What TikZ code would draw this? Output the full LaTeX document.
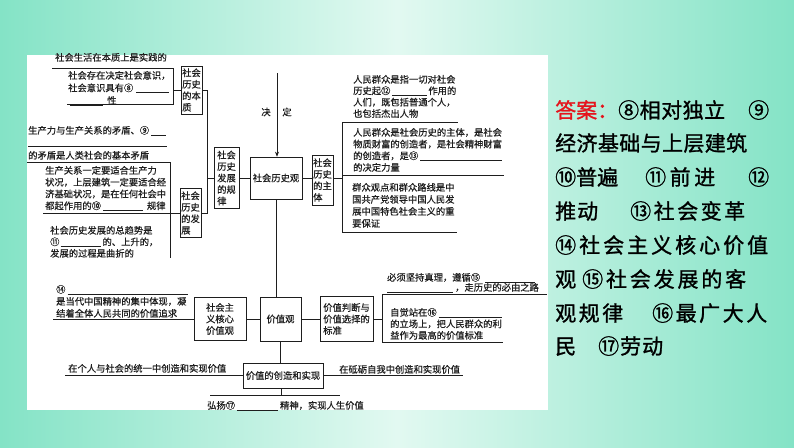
\documentclass[tikz,border=0pt]{standalone}
\usepackage{fontspec}
\setmainfont{Noto Sans CJK SC}
\newfontfamily\ansfont[FakeBold=1.2]{Noto Sans CJK SC}
\newfontfamily\dgfont[FakeBold=0.5]{Noto Sans CJK SC}
\usetikzlibrary{arrows.meta}
\definecolor{bgA}{HTML}{84E3C6}
\definecolor{bgB}{HTML}{E2F9F1}
\definecolor{ansred}{HTML}{E5141C}
\definecolor{ink}{HTML}{1E1E1E}
\newcommand\blk[1]{\rule[-1.2pt]{#1pt}{0.5pt}}
\makeatletter
\newcommand\spread[2]{\makebox[#1pt][s]{\spread@init#2\spread@end}}
\def\spread@init#1{#1\spread@loop}
\def\spread@loop#1{\ifx#1\spread@end\else\hfil#1\expandafter\spread@loop\fi}
\let\spread@end\relax
\makeatother
\tikzset{
  txt/.style={anchor=north west, inner sep=0pt, align=left, text=ink,
    font=\dgfont\fontsize{9.3}{11.7}\selectfont},
  bx/.style={draw=ink, line width=0.6pt, inner sep=0pt, text=ink,
    font=\dgfont\fontsize{9.3}{11.5}\selectfont, align=center},
  bxl/.style={bx, align=left},
  ln/.style={draw=ink, line width=0.6pt},
  ans/.style={anchor=base west, inner sep=0pt, text=black,
    font=\ansfont\fontsize{21}{21}\selectfont}
}
\begin{document}
\begin{tikzpicture}[x=1pt,y=-1pt]
\useasboundingbox (0,0) rectangle (794,447);
\shade[left color=bgA, right color=bgA, middle color=bgB] (0,0) rectangle (794,447);
\fill[white] (27,55) rectangle (548,410);

% ---------- boxes ----------
\node[bxl, minimum width=21pt, minimum height=48pt] (bz) at (191.5,90) {社会\\历史\\的本\\质};
\node[bxl, minimum width=21pt, minimum height=49pt] (fz) at (190.5,213) {社会\\历史\\的发\\展};
\node[bxl, minimum width=25pt, minimum height=61pt] (gl) at (226.5,178) {社会\\历史\\发展\\的规\\律};
\node[bx, minimum width=52pt, minimum height=42pt] (gc) at (276,178) {社会历史观};
\node[bxl, minimum width=21pt, minimum height=50pt] (zt) at (322.5,180) {社会\\历史\\的主\\体};
\node[bx, minimum width=41pt, minimum height=44pt] (vc) at (280.5,319) {价值观};
\node[bx, minimum width=52pt, minimum height=43pt] (hx) at (220,319) {社会主\\义核心\\价值观};
\node[bxl, minimum width=53pt, minimum height=45pt] (bzn) at (346.5,319) {价值判断与\\价值选择的\\标准};
\node[bx, minimum width=80pt, minimum height=25pt] (cz) at (283,375.5) {价值的创造和实现};

% ---------- arrow and label ----------
\coordinate (aTop) at (277,73);
\draw[ln, -{Stealth[length=5pt,width=4pt]}] (aTop) -- (aTop |- gc.north);
\node[txt, anchor=center] (jue) at (266,112) {决};
\node[txt, anchor=center] (ding) at (287,112) {定};

% ---------- left upper connectors ----------
\coordinate (j1) at (207,90);
\coordinate (j2) at (207,213);
\draw[ln] (bz.east) -- (j1) -- (j2) -- (fz.east);
\draw[ln] (j1 |- gl.west) -- (gl.west);
\draw[ln] (gl.east) -- (gc.west);
\draw[ln] (gc.east) -- (gc.east -| zt.west);

\coordinate (L1a) at (52,68);
\coordinate (L1b) at (173,68);
\coordinate (L1c) at (173,104);
\coordinate (L1d) at (67,104);
\draw[ln] (L1a) -- (L1b) -- (L1c) -- (L1d);
\draw[ln] (L1b |- bz.west) -- (bz.west);

\coordinate (L2a) at (28,146);
\coordinate (L2b) at (167,146);
\draw[ln] (L2a) -- (L2b);
\coordinate (L3a) at (27,162);
\coordinate (L3b) at (170,162);
\coordinate (L3c) at (170,258);
\draw[ln] (L3a) -- (L3b) -- (L3c);
\coordinate (L4a) at (43,213);
\draw[ln] (L4a) -- (fz.west);

% ---------- right upper connectors ----------
\coordinate (j3) at (342,178);
\coordinate (r1) at (342,122);
\coordinate (r2) at (342,232);
\coordinate (r1e) at (458,122);
\coordinate (rme) at (504,175);
\coordinate (r2e) at (457,232);
\draw[ln] (zt.east |- j3) -- (j3);
\draw[ln] (r1) -- (r2);
\draw[ln] (r1) -- (r1e);
\draw[ln] (r1 |- rme) -- (rme);
\draw[ln] (r2) -- (r2e);

% ---------- lower connectors ----------
\draw[ln] (gc.south) -- (gc.south |- vc.north);
\draw[ln] (vc.west) -- (hx.east);
\coordinate (h1) at (53,319);
\draw[ln] (hx.west) -- (h1);
\draw[ln] (vc.east) -- (bzn.west);
\coordinate (j4) at (382,319);
\coordinate (s1) at (382,294);
\coordinate (s2) at (382,342);
\coordinate (s1e) at (547,294);
\coordinate (s2e) at (503,342);
\draw[ln] (bzn.east) -- (j4);
\draw[ln] (s1) -- (s2);
\draw[ln] (s1) -- (s1e);
\draw[ln] (s2) -- (s2e);
\draw[ln] (vc.south) -- (vc.south |- cz.north);
\coordinate (c1) at (65,375.5);
\coordinate (c2) at (463,375.5);
\draw[ln] (cz.west) -- (c1);
\draw[ln] (cz.east) -- (c2);
\coordinate (c3) at (281,395);
\coordinate (c4) at (210,395);
\coordinate (c5) at (340,395);
\draw[ln] (cz.south -| c3) -- (c3);
\draw[ln] (c4) -- (c5);

% ---------- texts ----------
\node[txt] (p1) at (55,52.8) {社会生活在本质上是实践的};
\node[txt, font=\dgfont\fontsize{9.3}{12.5}\selectfont] (p2) at (68,70.8)
  {社会存在决定社会意识，\\社会意识具有⑧\hspace{3pt}\blk{33}\\\hspace{2pt}\blk{33}\hspace{4pt}性};
\node[txt] (p3) at (28,125.8) {生产力与生产关系的矛盾、⑨\hspace{2pt}\blk{15}};
\node[txt] (p4) at (28,150.8) {的矛盾是人类社会的基本矛盾};
\node[txt, font=\dgfont\fontsize{9.3}{11.8}\selectfont] (p5) at (45,165.8)
  {生产关系一定要适合生产力\\状况，上层建筑一定要适合经\\济基础状况，是在任何社会中\\都起作用的⑩\hspace{2pt}\blk{40}\hspace{4pt}规律};
\node[txt, font=\dgfont\fontsize{9.3}{11.5}\selectfont] (p6) at (50,225.8)
  {社会历史发展的总趋势是\\⑪\hspace{1pt}\blk{40}\hspace{2pt}的、上升的，\\发展的过程是曲折的};
\node[txt, font=\dgfont\fontsize{9.3}{11.4}\selectfont] (p7) at (353,74.8)
  {人民群众是指一切对社会\\历史起⑫\hspace{2pt}\blk{35}\hspace{1pt}作用的\\人们，既包括普通个人，\\也包括杰出人物};
\node[txt, font=\dgfont\fontsize{9.3}{11.7}\selectfont] (p8) at (353,127.8)
  {人民群众是社会历史的主体，是社会\\物质财富的创造者，是社会精神财富\\的创造者，是⑬\hspace{2pt}\blk{82}\\的决定力量};
\node[txt, font=\dgfont\fontsize{9.3}{12}\selectfont] (p9) at (352,182.8)
  {群众观点和群众路线是中\\国共产党领导中国人民发\\展中国特色社会主义的重\\要保证};
\node[txt] (p10) at (387,272.8) {必须坚持真理，遵循⑮\hspace{5pt}\blk{50}};
\node[txt] (p11) at (387,282.8) {\blk{66}\hspace{2pt}，走历史的必由之路};
\node[txt, font=\dgfont\fontsize{9.3}{11.5}\selectfont] (p12) at (390,307.8)
  {自觉站在⑯\hspace{2pt}\blk{63}\\的立场上，把人民群众的利\\益作为最高的价值标准};
\node[txt, font=\dgfont\fontsize{9.3}{12}\selectfont] (p13) at (56,284.8)
  {⑭\hspace{2pt}\blk{120}\\是当代中国精神的集中体现，凝\\结着全体人民共同的价值追求};
\node[txt] (p14) at (68,363.8) {在个人与社会的统一中创造和实现价值};
\node[txt] (p15) at (339,364.8) {在砥砺自我中创造和实现价值};
\node[txt] (p16) at (207,400.8) {弘扬⑰\hspace{2pt}\blk{41}\hspace{2pt}精神，实现人生价值};

% ---------- answers ----------
\node[ans] (a1) at (555,118) {{\color{ansred}\spread{63}{答案：}}\spread{107}{⑧相对独立}\hspace{23pt}⑨};
\node[ans] (a2) at (555,151) {\spread{192}{经济基础与上层建筑}};
\node[ans] (a3) at (555,185) {\spread{63}{⑩普遍}\hspace{27pt}\spread{70}{⑪前进}\hspace{33pt}⑫};
\node[ans] (a4) at (555,219) {\spread{43}{推动}\hspace{32pt}\spread{115}{⑬社会变革}};
\node[ans] (a5) at (555,253) {\spread{213}{⑭社会主义核心价值}};
\node[ans] (a6) at (555,287) {观\hspace{6pt}\spread{164}{⑮社会发展的客}};
\node[ans] (a7) at (555,321) {\spread{68}{观规律}\hspace{29pt}\spread{115}{⑯最广大人}};
\node[ans] (a8) at (555,354) {民\hspace{22pt}\spread{65}{⑰劳动}};
\end{tikzpicture}
\end{document}
